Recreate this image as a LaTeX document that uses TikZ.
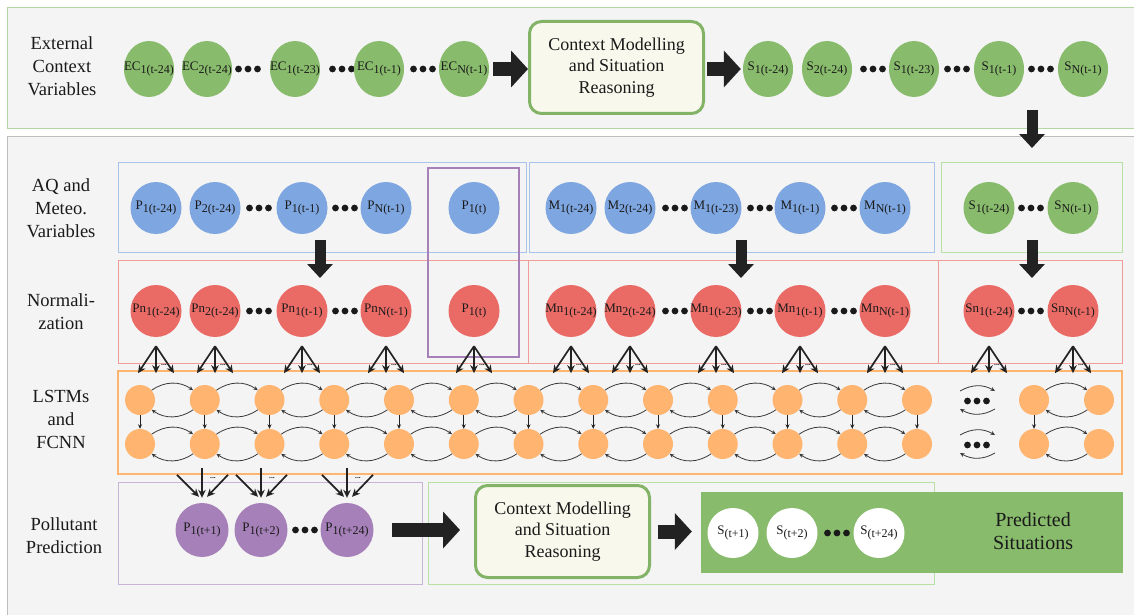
\documentclass[tikz,border=0pt]{standalone}
\usepackage{fontspec}
\setmainfont{Liberation Serif}
\usetikzlibrary{shapes.geometric,arrows.meta,calc}

\definecolor{txt}{HTML}{1A1A1A}
\definecolor{panelbg}{HTML}{F4F4F4}
\definecolor{panelline}{HTML}{BDBDBD}
\definecolor{toppanelline}{HTML}{B3D6A3}
\definecolor{ecg}{HTML}{88BB6C}
\definecolor{ecgdark}{HTML}{82B366}
\definecolor{cream}{HTML}{F9F8EC}
\definecolor{aqb}{HTML}{7EA6E0}
\definecolor{aqbline}{HTML}{A9C4EB}
\definecolor{nr}{HTML}{EA6B66}
\definecolor{nrline}{HTML}{F19C99}
\definecolor{lo}{HTML}{FFB570}
\definecolor{pp}{HTML}{A680B8}
\definecolor{ppline}{HTML}{C9B3D6}
\definecolor{gline}{HTML}{B9E0A5}
\definecolor{arrowc}{HTML}{222222}

% variable name with a lowered index, zero width so the ellipse keeps its size
\newcommand\lbl[2]{\makebox[0pt]{#1\raisebox{-3pt}{\fontsize{12}{12}\selectfont#2}}}
% three bullets meaning "and so on"
\newcommand\threedots[2]{\foreach \k in {-1,0,1}{\fill[txt] ({#1+9.5*\k},#2) circle[radius=3.4pt];}}

\tikzset{
  vnode/.style={ellipse, inner sep=0pt, minimum width=51pt, minimum height=52pt,
    text=txt, font=\fontsize{13}{13}\selectfont},
  topnode/.style={vnode, fill=ecg, minimum width=50pt, minimum height=56pt},
  aqnode/.style={vnode, fill=aqb},
  sitnode/.style={vnode, fill=ecg},
  normnode/.style={vnode, fill=nr},
  prednode/.style={vnode, fill=pp, minimum width=53pt, minimum height=54pt},
  outnode/.style={vnode, fill=white, minimum height=50pt},
  cell/.style={circle, fill=lo, minimum size=30pt, inner sep=0pt},
  groupbox/.style={line width=0.9pt},
  cmbox/.style={draw=ecgdark, line width=3pt, fill=cream, rounded corners=12pt,
    minimum width=174pt, minimum height=92pt, align=center, inner sep=0pt,
    text=txt, font=\fontsize{18}{21.5}\selectfont},
  fat/.style={draw=arrowc, line width=14pt, -{Triangle[length=17pt,width=36pt]}},
  fatdown/.style={draw=arrowc, line width=11pt, -{Triangle[length=14pt,width=25pt]}},
  fan/.style={draw=arrowc, line width=1.7pt, -{Stealth[length=8pt,width=7.5pt]}},
  recur/.style={draw=arrowc!90, line width=0.8pt, -{Stealth[length=4.5pt,width=4pt]}},
  down/.style={draw=arrowc, line width=0.9pt, -{Stealth[length=4.5pt,width=4pt]}},
  rowlabel/.style={align=center, text=txt, font=\fontsize{18.5}{23}\selectfont},
  dotlabel/.style={inner sep=0pt, text=txt, font=\fontsize{7.5}{7.5}\selectfont\bfseries},
}

\begin{document}
\begin{tikzpicture}[x=1pt,y=-1pt]
\useasboundingbox (0,0) rectangle (1134,615);
\clip (0,0) rectangle (1134,615);
\fill[white] (0,0) rectangle (1134,615);

% ---------- panels ----------
\draw[toppanelline, fill=panelbg, line width=1pt] (7.5,7.5) rectangle (1145,128.5);
\draw[panelline, fill=panelbg, line width=1pt] (7.5,136.5) rectangle (1145,640);

% ---------- group frames ----------
\draw[aqbline, groupbox] (118,162) rectangle (526.5,252);
\draw[aqbline, groupbox] (529,162) rectangle (934,252);
\draw[gline, groupbox] (941,162) rectangle (1122,252);
\draw[nrline, groupbox] (118,260) rectangle (528,363);
\draw[nrline, groupbox] (528,260) rectangle (938,363);
\draw[nrline, groupbox] (938,260) rectangle (1122,363);
\draw[lo, line width=1.3pt] (118,371) rectangle (1122,474);
\draw[ppline, groupbox] (118,482) rectangle (422,584);
\draw[gline, groupbox] (428,482) rectangle (934,584);
\draw[pp, line width=1.8pt] (428,168) rectangle (519,357);

% ---------- row labels ----------
\node[rowlabel] (labtop) at (62,66) {External\\Context\\Variables};
\node[rowlabel] (labaq) at (61,208) {AQ and\\Meteo.\\Variables};
\node[rowlabel] (labnorm) at (61,312) {Normali-\\zation};
\node[rowlabel] (lablstm) at (61,419) {LSTMs\\and\\FCNN};
\node[rowlabel] (labpred) at (64,536) {Pollutant\\Prediction};

% ---------- external context row ----------
\node[topnode] (ec1) at (149,69) {\lbl{EC}{1(t-24)}};
\node[topnode] (ec2) at (207,69) {\lbl{EC}{2(t-24)}};
\threedots{248}{69}
\node[topnode] (ec3) at (295,69) {\lbl{EC}{1(t-23)}};
\threedots{342}{69}
\node[topnode] (ec4) at (379,69) {\lbl{EC}{1(t-1)}};
\threedots{423}{69}
\node[topnode] (ec5) at (464,69) {\lbl{EC}{N(t-1)}};

\node[cmbox] (cm1) at (616.5,67.5) {Context Modelling\\and Situation\\Reasoning};

\node[topnode] (st1) at (768,69) {\lbl{S}{1(t-24)}};
\node[topnode] (st2) at (827,69) {\lbl{S}{2(t-24)}};
\threedots{873}{69}
\node[topnode] (st3) at (914,69) {\lbl{S}{1(t-23)}};
\threedots{957}{69}
\node[topnode] (st4) at (999,69) {\lbl{S}{1(t-1)}};
\threedots{1041}{69}
\node[topnode] (st5) at (1083,69) {\lbl{S}{N(t-1)}};

\draw[fat] ($(ec5.east)+(4,0)$) -- (ec5.east -| cm1.west);
\draw[fat] ($(st1.west -| cm1.east)+(2,0)$) -- ($(st1.west)+(-2,0)$);
\coordinate (sdnA) at (1032,110);
\coordinate (sdnB) at (1032,148);
\draw[fatdown] (sdnA) -- (sdnB);

% ---------- AQ and meteo variables ----------
\node[aqnode] (p1) at (156,208) {\lbl{P}{1(t-24)}};
\node[aqnode] (p2) at (215,208) {\lbl{P}{2(t-24)}};
\threedots{259}{208}
\node[aqnode] (p3) at (302,208) {\lbl{P}{1(t-1)}};
\threedots{345}{208}
\node[aqnode] (p4) at (386,208) {\lbl{P}{N(t-1)}};
\node[aqnode] (p5) at (474,208) {\lbl{P}{1(t)}};

\node[aqnode] (m1) at (571,208) {\lbl{M}{1(t-24)}};
\node[aqnode] (m2) at (630,208) {\lbl{M}{2(t-24)}};
\threedots{675}{208}
\node[aqnode] (m3) at (716,208) {\lbl{M}{1(t-23)}};
\threedots{760}{208}
\node[aqnode] (m4) at (800,208) {\lbl{M}{1(t-1)}};
\threedots{844}{208}
\node[aqnode] (m5) at (885,208) {\lbl{M}{N(t-1)}};

\node[sitnode] (s1) at (989,208) {\lbl{S}{1(t-24)}};
\threedots{1031}{208}
\node[sitnode] (s2) at (1073,208) {\lbl{S}{N(t-1)}};

% ---------- normalization ----------
\node[normnode] (pn1) at (156,311) {\lbl{Pn}{1(t-24)}};
\node[normnode] (pn2) at (215,311) {\lbl{Pn}{2(t-24)}};
\threedots{259}{311}
\node[normnode] (pn3) at (302,311) {\lbl{Pn}{1(t-1)}};
\threedots{345}{311}
\node[normnode] (pn4) at (386,311) {\lbl{Pn}{N(t-1)}};
\node[normnode] (pn5) at (474,311) {\lbl{P}{1(t)}};

\node[normnode] (mn1) at (571,311) {\lbl{Mn}{1(t-24)}};
\node[normnode] (mn2) at (630,311) {\lbl{Mn}{2(t-24)}};
\threedots{675}{311}
\node[normnode] (mn3) at (716,311) {\lbl{Mn}{1(t-23)}};
\threedots{760}{311}
\node[normnode] (mn4) at (800,311) {\lbl{Mn}{1(t-1)}};
\threedots{844}{311}
\node[normnode] (mn5) at (885,311) {\lbl{Mn}{N(t-1)}};

\node[normnode] (sn1) at (989,311) {\lbl{Sn}{1(t-24)}};
\threedots{1031}{311}
\node[normnode] (sn2) at (1073,311) {\lbl{Sn}{N(t-1)}};

% block arrows from raw variables to normalized ones
\coordinate (paA) at (320,240);  \coordinate (paB) at (320,278);
\coordinate (maA) at (741,240);  \coordinate (maB) at (741,278);
\coordinate (saA) at (1032,240); \coordinate (saB) at (1032,278);
\draw[fatdown] (paA) -- (paB);
\draw[fatdown] (maA) -- (maB);
\draw[fatdown] (saA) -- (saB);

% fans from each normalized variable into the recurrent layer
\foreach \n in {pn1,pn2,pn3,pn4,pn5,mn1,mn2,mn3,mn4,mn5,sn1,sn2}{
  \coordinate (\n-apex) at ($(\n.south)+(0,9)$);
  \draw[fan] (\n-apex) -- ($(\n.south)+(-18,36)$);
  \draw[fan] (\n-apex) -- ($(\n.south)+(0,36)$);
  \draw[fan] (\n-apex) -- ($(\n.south)+(18,36)$);
  \node[dotlabel] at ($(\n.south)+(8,28)$) {...};
}

% ---------- LSTM and FCNN cells ----------
\foreach \i in {1,...,13}{
  \node[cell] (la\i) at ({140+64.75*(\i-1)},400) {};
  \node[cell] (lb\i) at ({140+64.75*(\i-1)},444) {};
}
\node[cell] (la14) at (1034,400) {};
\node[cell] (lb14) at (1034,444) {};
\node[cell] (la15) at (1099,400) {};
\node[cell] (lb15) at (1099,444) {};

\foreach \i/\j in {1/2,2/3,3/4,4/5,5/6,6/7,7/8,8/9,9/10,10/11,11/12,12/13,14/15}{
  \draw[recur] (la\i.40) to[bend left=35] (la\j.140);
  \draw[recur] (la\j.-140) to[bend left=35] (la\i.-40);
  \draw[recur] (lb\i.40) to[bend left=35] (lb\j.140);
  \draw[recur] (lb\j.-140) to[bend left=35] (lb\i.-40);
}
\foreach \i in {1,...,14}{
  \draw[down] (la\i.south) -- (lb\i.north);
}

% elided cells
\foreach \r in {0,44}{
  \threedots{977}{401+\r}
  \coordinate (ela\r) at (960,391+\r);
  \coordinate (elb\r) at (995,391+\r);
  \coordinate (elc\r) at (995,409+\r);
  \coordinate (eld\r) at (960,409+\r);
  \draw[recur] (ela\r) to[bend left=30] (elb\r);
  \draw[recur] (elc\r) to[bend left=30] (eld\r);
}

% ---------- pollutant prediction ----------
\node[prednode] (pp1) at (202,530) {\lbl{P}{1(t+1)}};
\node[prednode] (pp2) at (261,530) {\lbl{P}{1(t+2)}};
\threedots{305}{530}
\node[prednode] (pp3) at (347,530) {\lbl{P}{1(t+24)}};

\foreach \n in {pp1,pp2,pp3}{
  \draw[fan] ($(\n.north)+(-25,-28)$) -- ($(\n.north)+(-3,-6)$);
  \draw[fan] ($(\n.north)+(0,-35)$) -- ($(\n.north)+(0,-5)$);
  \draw[fan] ($(\n.north)+(26,-28)$) -- ($(\n.north)+(5,-6)$);
  \node[dotlabel] at ($(\n.north)+(11,-25)$) {...};
}

\node[cmbox] (cm2) at (562.5,531.5) {Context Modelling\\and Situation\\Reasoning};

\draw[fat] ($(pp3.east)+(18,0)$) -- ($(pp3.east -| cm2.west)+(-14,0)$);

\node[fill=ecg, minimum width=422pt, minimum height=81pt, inner sep=0pt] (predbox) at (912,532.5) {};
\node[outnode] (so1) at (733,533) {\lbl{S}{(t+1)}};
\node[outnode] (so2) at (792,533) {\lbl{S}{(t+2)}};
\threedots{837}{533}
\node[outnode] (so3) at (879,533) {\lbl{S}{(t+24)}};
\node[align=center, text=txt, font=\fontsize{20}{23}\selectfont] (predlab) at (1033,531.5) {Predicted\\Situations};

\draw[fat] ($(cm2.east)+(7,0)$) -- ($(cm2.east -| predbox.west)+(-9,0)$);
\end{tikzpicture}
\end{document}
